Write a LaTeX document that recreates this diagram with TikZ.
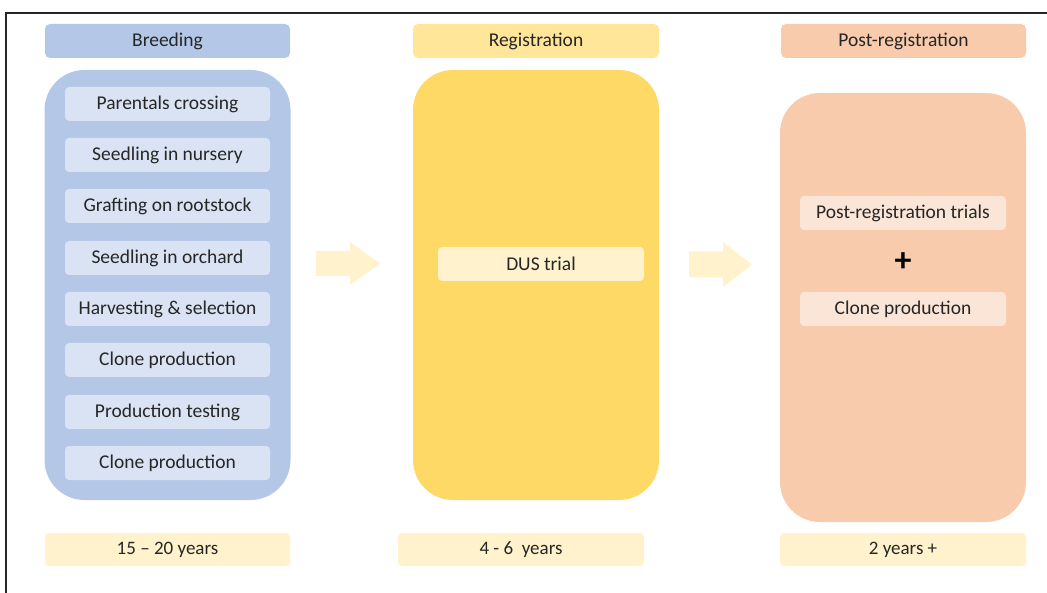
\documentclass[tikz,border=0pt]{standalone}
\usepackage{fontspec}
\setmainfont{Carlito}
\definecolor{bluehead}{HTML}{B4C7E7}
\definecolor{bluein}{HTML}{DAE3F3}
\definecolor{yelhead}{HTML}{FFE699}
\definecolor{yelbox}{HTML}{FFD966}
\definecolor{yelpale}{HTML}{FFF2CC}
\definecolor{orbox}{HTML}{F8CBAD}
\definecolor{orin}{HTML}{FBE5D6}
\definecolor{txt}{HTML}{262626}
\begin{document}
\begin{tikzpicture}[x=1pt,y=-1pt,
  header/.style={rectangle, rounded corners=5pt, minimum width=245pt, minimum height=34pt, inner sep=0pt, text=txt, font=\fontsize{19.5}{22}\selectfont},
  bigbox/.style={rectangle, rounded corners=40pt, minimum width=246pt, minimum height=430pt, inner sep=0pt},
  stepbox/.style={rectangle, rounded corners=4pt, minimum width=205pt, minimum height=34pt, inner sep=0pt, text=txt, font=\fontsize{19.5}{22}\selectfont},
  yearbox/.style={rectangle, rounded corners=4pt, fill=yelpale, minimum width=246pt, minimum height=33pt, inner sep=0pt, text=txt, font=\fontsize{19}{22}\selectfont},
  blockarrow/.style={fill=yelpale}
]
\useasboundingbox (0,0) rectangle (1047,593);
% frame
\draw[line width=1.6pt, black!85] (6,593) -- (6,13) -- (1047,13);

% Breeding column
\node[header, fill=bluehead] (bh) at (167.5,41) {Breeding};
\node[bigbox, fill=bluehead] (bb) at (167.5,285) {};
\node[stepbox, fill=bluein] (b1) at (167.5,104) {Parentals crossing};
\node[stepbox, fill=bluein] (b2) at (167.5,155) {Seedling in nursery};
\node[stepbox, fill=bluein] (b3) at (167.5,206) {Grafting on rootstock};
\node[stepbox, fill=bluein] (b4) at (167.5,258) {Seedling in orchard};
\node[stepbox, fill=bluein] (b5) at (167.5,309) {Harvesting \& selection};
\node[stepbox, fill=bluein] (b6) at (167.5,360) {Clone production};
\node[stepbox, fill=bluein] (b7) at (167.5,412) {Production testing};
\node[stepbox, fill=bluein] (b8) at (167.5,463) {Clone production};

% Registration column
\node[header, fill=yelhead, minimum width=246pt] (rh) at (536,41) {Registration};
\node[bigbox, fill=yelbox] (rb) at (536,285) {};
\node[stepbox, fill=yelpale, minimum width=206pt] (r1) at (541,264) {DUS trial};

% Post-registration column
\node[header, fill=orbox] (ph) at (903.5,41) {Post-registration};
\node[bigbox, fill=orbox, minimum height=429pt] (pb) at (903,307.5) {};
\node[stepbox, fill=orin, minimum width=206pt] (p1) at (903,213) {Post-registration trials};
\node[text=black, font=\fontsize{34}{34}\selectfont\bfseries, inner sep=0pt] (plus) at (903,262) {+};
\node[stepbox, fill=orin, minimum width=206pt] (p2) at (903,309) {Clone production};

% block arrows
\fill[blockarrow] (316,251) -- (350,251) -- (350,242) -- (380,263.5) -- (350,285) -- (350,276) -- (316,276) -- cycle;
\fill[blockarrow] (689,251.5) -- (723,251.5) -- (723,242) -- (752,264.5) -- (723,287) -- (723,277.5) -- (689,277.5) -- cycle;

% duration boxes
\node[yearbox, minimum width=245pt] (y1) at (167.5,549.5) {15 -- 20 years};
\node[yearbox] (y2) at (521,549.5) {4 - 6 \ years};
\node[yearbox] (y3) at (903,549.5) {2 years +};
\end{tikzpicture}
\end{document}
